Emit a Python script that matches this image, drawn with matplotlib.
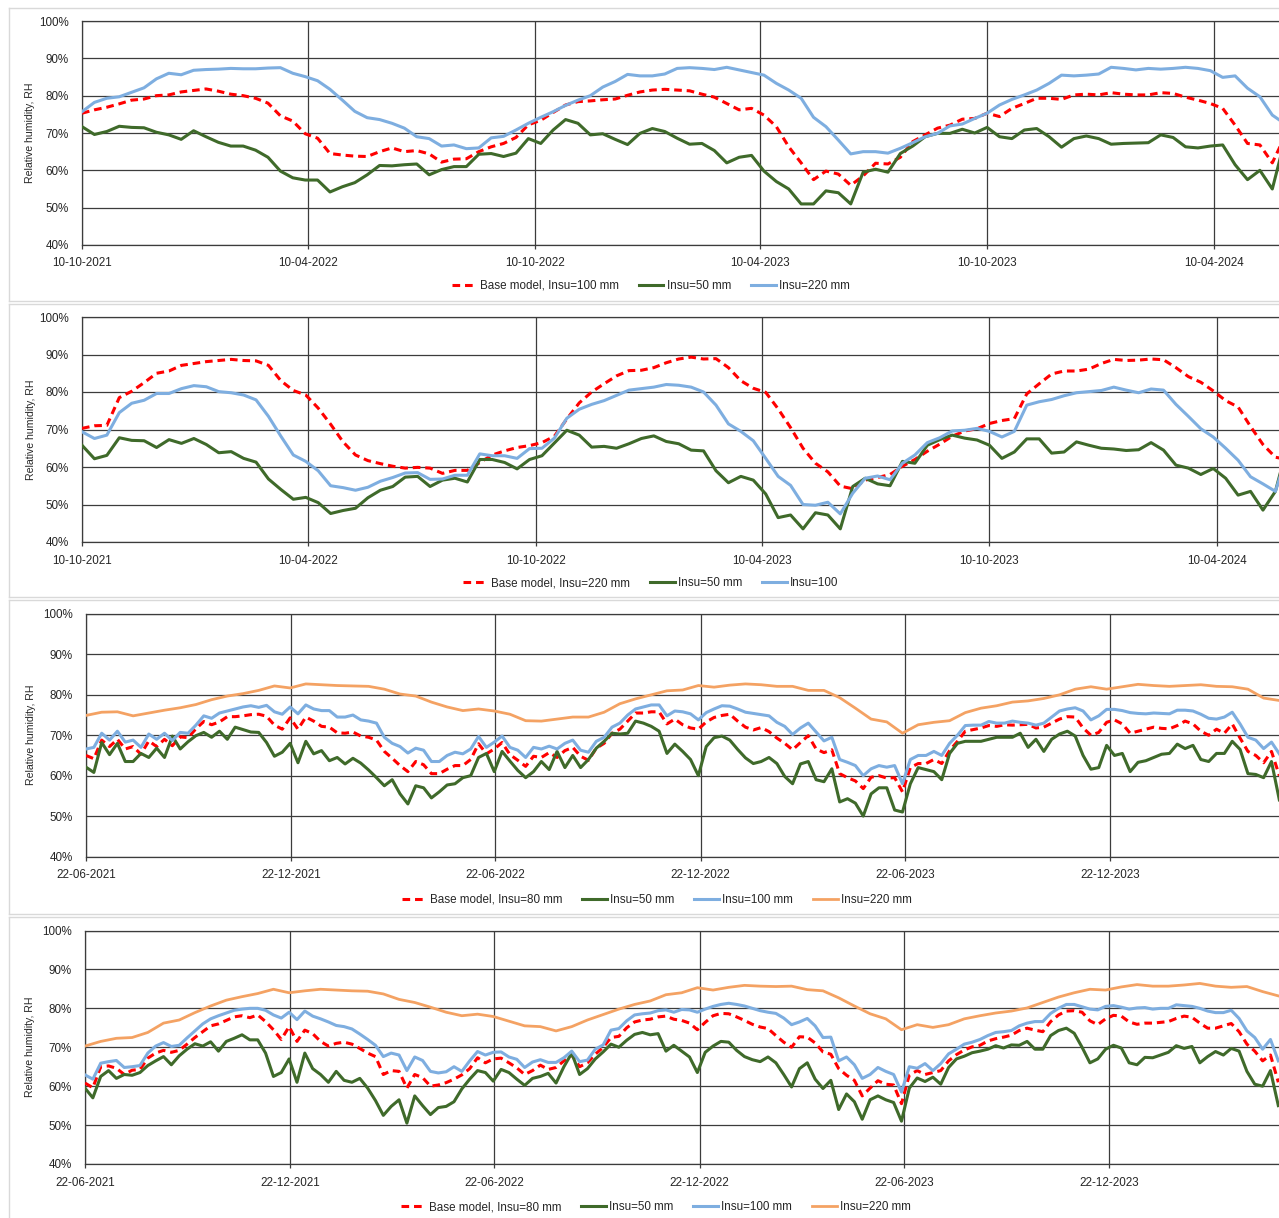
import numpy as np
import pandas as pd
import matplotlib
matplotlib.use("Agg")
import matplotlib.pyplot as plt
import matplotlib.dates as mdates
from matplotlib.lines import Line2D

plt.rcParams['font.family'] = ['Liberation Sans', 'DejaVu Sans']

# ---------------------------------------------------------------- data
# Panel 1 : 10-day samples from 10-10-2021
P1_START, P1_STEP = "2021-10-10", 10
p1_ticks = ["10-10-2021", "10-04-2022", "10-10-2022", "10-04-2023", "10-10-2023", "10-04-2024"]
p1_labels = ["Base model, Insu=100 mm", "Insu=50 mm", "Insu=220 mm"]
p1_base100 = [75.3, 76.2, 76.9, 77.8, 78.8, 79.1, 80.0, 80.2, 81.0, 81.4, 81.8, 81.2, 80.4, 80.0, 79.3, 78.0,
              74.6, 73.2, 69.8, 68.6, 64.5, 64.1, 63.8, 63.7, 65.0, 66.0, 65.0, 65.3, 64.4, 62.2, 63.0, 63.1,
              65.0, 66.3, 67.2, 68.8, 72.2, 73.4, 75.5, 77.5, 78.4, 78.6, 78.9, 79.1, 80.1, 81.0,
              81.5, 81.7, 81.5, 81.3, 80.4, 79.6, 77.9, 76.2, 76.6, 74.8, 71.7, 66.3, 62.0, 57.5, 59.8, 59.0,
              56.0, 58.5, 61.9, 61.7, 63.5, 67.7, 69.5, 71.3, 72.1, 73.7, 73.9, 75.3, 74.4, 76.6, 77.9, 79.3,
              79.3, 79.0, 80.2, 80.4, 80.2, 80.8, 80.4, 80.2, 80.2, 80.8, 80.6, 79.6, 78.8, 77.9, 76.6, 72.1,
              67.2, 66.8, 62.0, 69.0]
p1_insu50 = [71.7, 69.6, 70.4, 71.8, 71.5, 71.4, 70.2, 69.5, 68.3, 70.6, 69.0, 67.5, 66.5, 66.5, 65.4, 63.5,
             59.8, 58.0, 57.4, 57.4, 54.2, 55.6, 56.7, 58.8, 61.3, 61.2, 61.5, 61.7, 58.8, 60.2, 61.0, 61.0,
             64.3, 64.5, 63.7, 64.6, 68.5, 67.2, 70.8, 73.6, 72.6, 69.5, 69.8, 68.3, 66.9, 69.9,
             71.2, 70.4, 68.6, 67.0, 67.2, 65.3, 62.0, 63.5, 64.0, 59.8, 57.0, 55.0, 51.0, 51.0, 54.5, 54.0,
             51.0, 59.5, 60.3, 59.5, 64.5, 66.5, 69.0, 69.9, 69.9, 71.0, 70.0, 71.5, 69.0, 68.5, 70.8, 71.2,
             69.0, 66.2, 68.5, 69.2, 68.5, 67.0, 67.2, 67.3, 67.4, 69.5, 68.8, 66.3, 66.0, 66.5, 66.8, 61.5,
             57.5, 60.0, 55.0, 68.0]
p1_insu220 = [75.7, 78.2, 79.3, 79.7, 80.9, 82.1, 84.5, 86.0, 85.6, 86.8, 87.0, 87.1, 87.3, 87.2, 87.2, 87.4,
              87.5, 86.0, 85.1, 84.0, 81.7, 78.8, 75.8, 74.1, 73.6, 72.6, 71.3, 69.0, 68.5, 66.5, 66.8, 65.8,
              66.0, 68.7, 69.1, 70.8, 72.6, 74.2, 75.7, 77.4, 78.8, 80.0, 82.3, 83.8, 85.7, 85.3,
              85.3, 85.8, 87.3, 87.5, 87.3, 87.0, 87.6, 86.9, 86.2, 85.5, 83.3, 81.5, 79.3, 74.2, 71.7, 68.1,
              64.4, 65.0, 65.0, 64.6, 65.9, 67.4, 69.0, 69.9, 71.9, 72.4, 73.9, 75.3, 77.5, 79.0, 80.2, 81.5,
              83.3, 85.5, 85.3, 85.5, 85.8, 87.6, 87.3, 86.9, 87.3, 87.1, 87.3, 87.6, 87.3, 86.7, 84.9, 85.3,
              82.0, 79.7, 74.8, 72.5]

# Panel 2 : 10-day samples from 10-10-2021
P2_START, P2_STEP = "2021-10-10", 10
p2_ticks = p1_ticks
p2_labels = ["Base model, Insu=220 mm", "Insu=50 mm", "Insu=100"]
p2_base220 = [70.3, 71.0, 71.1, 78.5, 80.2, 82.5, 85.0, 85.6, 87.1, 87.6, 88.1, 88.4, 88.7, 88.4, 88.3, 87.1,
              83.0, 80.4, 79.2, 75.7, 71.4, 66.7, 63.2, 61.7, 60.9, 60.2, 59.7, 59.9, 59.7, 58.3, 59.1, 59.1,
              61.2, 63.2, 64.3, 65.2, 65.7, 66.5, 68.2, 72.8, 77.1, 80.0, 82.2, 84.3, 85.7, 85.8,
              86.5, 87.8, 88.8, 89.3, 88.8, 88.9, 86.5, 83.0, 81.0, 79.9, 75.5, 70.5, 65.0, 61.0, 58.7, 54.9,
              54.2, 56.5, 57.2, 58.0, 60.2, 62.0, 64.2, 66.1, 68.2, 69.6, 70.2, 71.6, 72.4, 72.9, 79.5, 82.2,
              84.8, 85.6, 85.6, 86.1, 87.6, 88.7, 88.4, 88.5, 88.8, 88.6, 86.5, 84.1, 82.6, 80.3, 77.7, 76.0,
              70.8, 66.0, 62.6, 62.0]
p2_insu50 = [65.8, 62.2, 63.1, 67.8, 67.1, 67.0, 65.2, 67.3, 66.3, 67.6, 66.0, 63.8, 64.1, 62.3, 61.3, 56.8,
             54.0, 51.4, 51.9, 50.5, 47.6, 48.4, 49.0, 51.8, 53.8, 54.8, 57.3, 57.5, 54.8, 56.5, 57.0, 56.0,
             62.0, 62.0, 61.2, 59.5, 62.0, 63.0, 66.4, 69.8, 68.5, 65.3, 65.5, 65.0, 66.2, 67.6,
             68.3, 66.8, 66.2, 64.5, 64.3, 59.0, 55.8, 57.5, 56.5, 52.8, 46.5, 47.2, 43.5, 47.8, 47.2, 43.5,
             54.8, 57.0, 55.5, 55.0, 61.5, 61.0, 65.8, 67.3, 68.5, 67.7, 67.2, 65.8, 62.3, 64.0, 67.5, 67.5,
             63.7, 64.0, 66.7, 65.8, 65.0, 64.8, 64.4, 64.6, 66.5, 64.5, 60.5, 59.7, 58.0, 59.6, 57.0, 52.5,
             53.5, 48.5, 53.5, 66.0]
p2_insu100 = [69.4, 67.6, 68.5, 74.5, 77.0, 77.8, 79.6, 79.6, 80.9, 81.7, 81.4, 80.1, 79.8, 79.2, 77.9, 73.5,
              68.2, 63.2, 61.5, 59.0, 55.0, 54.5, 53.8, 54.6, 56.2, 57.2, 58.4, 58.5, 56.7, 56.8, 57.8, 57.8,
              63.5, 63.0, 63.0, 62.3, 64.9, 65.0, 67.7, 73.0, 75.4, 76.7, 77.7, 79.1, 80.5, 80.9,
              81.3, 82.0, 81.8, 81.3, 80.0, 76.5, 71.5, 69.5, 67.0, 62.3, 57.5, 55.1, 50.0, 49.8, 50.6, 47.5,
              53.0, 57.0, 57.6, 56.6, 61.0, 63.2, 66.5, 67.8, 69.6, 69.8, 70.3, 69.5, 68.0, 69.5, 76.5, 77.4,
              78.0, 79.0, 79.8, 80.1, 80.4, 81.3, 80.5, 79.8, 80.8, 80.5, 76.7, 73.5, 70.2, 68.0, 65.0, 61.8,
              57.4, 55.5, 53.5, 64.0]

# Panel 3 : weekly samples (Insu=220 every 14 days) from 22-06-2021
P3_START, P3_STEP, P3_STEP_220 = "2021-06-22", 7, 14
p34_ticks = ["22-06-2021", "22-12-2021", "22-06-2022", "22-12-2022", "22-06-2023", "22-12-2023"]
p34_labels = ["Base model, Insu=80 mm", "Insu=50 mm", "Insu=100 mm", "Insu=220 mm"]
p3_base80 = [65.0, 64.2, 68.8, 67.2, 69.0, 66.6, 67.2, 65.3, 68.6, 67.2, 69.0, 67.4, 69.6, 69.4, 71.6, 73.4,
             72.6, 73.3, 74.6, 74.6, 74.8, 75.1, 75.2, 74.7, 72.5, 71.5, 74.3, 71.5, 74.5, 73.5, 72.2, 72.0,
             70.6, 70.5, 70.8, 69.8, 69.5, 68.8, 66.0, 64.3, 62.5, 61.0, 63.5, 62.7, 60.5, 60.5, 61.6, 62.5,
             62.5, 64.0, 67.9, 65.4, 66.6, 68.2, 65.2, 63.8, 62.3, 64.8, 64.5, 65.7, 64.5, 66.2, 67.0, 64.8,
             63.8, 66.8, 68.0, 70.5, 71.5, 73.5, 75.5, 75.5, 75.8, 75.8, 72.8, 74.0,
             72.6, 71.8, 71.5, 73.3, 74.4, 74.9, 75.2, 73.5, 72.0, 71.3, 71.9, 70.9, 69.3, 68.0, 66.4, 68.2,
             69.9, 66.6, 65.7, 66.4, 60.5, 59.5, 58.7, 56.8, 59.6, 60.0, 59.4, 59.5, 56.0, 62.0, 63.0, 63.0,
             64.0, 63.0, 66.2, 68.5, 71.0, 71.4, 71.8, 72.4, 72.2, 72.6, 72.5, 72.6, 72.7, 71.8, 72.0, 73.0,
             74.0, 74.6, 74.5, 71.8, 70.0, 70.7, 73.2, 73.8, 72.8, 70.5, 71.0, 71.5, 72.0, 71.7, 71.6, 72.4,
             73.5, 72.8, 71.0, 70.0, 71.5, 70.5, 72.8, 69.3, 66.0, 65.0, 63.2, 66.0, 60.0]
p3_insu50 = [62.1, 60.8, 68.2, 65.2, 68.0, 63.5, 63.5, 65.5, 64.5, 66.8, 64.5, 69.8, 66.6, 68.4, 69.9, 70.7,
             69.5, 71.0, 69.0, 72.0, 71.4, 70.8, 70.7, 68.2, 64.8, 65.8, 68.0, 63.2, 68.5, 65.4, 66.2, 63.7,
             64.5, 62.9, 64.3, 63.1, 61.4, 59.5, 57.5, 59.0, 55.5, 53.0, 57.5, 57.0, 54.5, 56.0, 57.7, 58.0,
             59.5, 60.0, 64.5, 65.5, 61.0, 66.0, 63.6, 61.3, 59.5, 61.0, 63.5, 61.5, 66.0, 62.0, 65.0, 62.0,
             64.0, 66.8, 68.5, 70.5, 70.3, 70.5, 73.5, 73.0, 72.2, 71.0, 65.5, 67.8,
             66.0, 64.0, 60.0, 67.2, 69.4, 69.8, 68.8, 66.5, 64.4, 63.0, 63.5, 64.5, 63.0, 59.8, 58.0, 62.9,
             63.5, 59.0, 58.5, 61.7, 53.5, 54.3, 53.2, 50.0, 55.5, 57.0, 57.0, 51.5, 51.0, 58.0, 62.0, 61.5,
             61.0, 59.0, 65.5, 68.0, 68.5, 68.5, 68.5, 69.0, 69.5, 69.5, 69.5, 70.5, 67.0, 69.0, 66.0, 69.0,
             70.3, 71.0, 69.8, 65.0, 61.6, 62.0, 67.5, 65.0, 65.5, 61.0, 63.3, 63.7, 64.5, 65.3, 65.5, 67.8,
             66.7, 67.5, 64.0, 63.5, 65.5, 65.5, 68.5, 66.5, 60.5, 60.3, 59.5, 63.5, 54.0]
p3_insu100 = [66.6, 67.0, 70.5, 68.8, 71.0, 68.3, 68.8, 67.0, 70.3, 69.0, 70.5, 68.7, 70.7, 70.5, 72.5, 74.8,
              74.2, 75.5, 76.0, 76.5, 77.0, 77.3, 76.9, 77.4, 75.8, 75.2, 77.0, 75.3, 77.5, 76.5, 76.1, 76.1,
              74.5, 74.5, 75.0, 73.8, 73.5, 73.0, 69.5, 68.0, 67.2, 65.6, 66.8, 66.3, 63.5, 63.5, 65.0, 65.8,
              65.4, 66.6, 69.7, 67.0, 68.3, 69.8, 67.0, 66.3, 64.5, 67.0, 66.6, 67.3, 66.6, 68.0, 68.8, 66.3,
              65.8, 68.5, 69.5, 72.0, 73.0, 75.0, 76.5, 77.0, 77.5, 77.5, 74.8, 76.0,
              75.8, 75.3, 73.8, 75.6, 76.5, 77.3, 77.2, 76.5, 75.7, 75.4, 75.1, 74.8, 73.2, 72.2, 70.2, 71.8,
              73.0, 70.8, 68.6, 69.5, 64.0, 63.3, 62.5, 60.0, 61.7, 62.5, 62.1, 62.5, 58.0, 64.0, 65.0, 65.0,
              66.0, 65.0, 68.0, 70.0, 72.4, 72.5, 72.5, 73.4, 73.0, 73.0, 73.5, 73.2, 73.0, 72.5, 73.0, 74.5,
              76.0, 76.5, 76.8, 76.0, 73.8, 74.8, 76.4, 76.4, 76.1, 75.6, 75.4, 75.3, 75.5, 75.4, 75.3, 76.2,
              76.2, 76.0, 75.2, 74.2, 74.0, 74.5, 75.7, 72.8, 69.5, 68.8, 66.7, 68.3, 65.4]
p3_insu220 = [74.9, 75.7, 75.8, 74.8, 75.5, 76.2, 76.8, 77.6, 78.8, 79.7, 80.3, 81.1, 82.2, 81.7, 82.7, 82.5,
              82.3, 82.2, 82.1, 81.4, 80.2, 79.7, 78.2, 77.0, 76.1, 76.5, 76.0, 75.2, 73.6, 73.5, 74.0, 74.5,
              74.5, 75.7, 77.8, 79.0, 80.0, 81.0, 81.2, 82.3, 81.9, 82.4, 82.7, 82.5, 82.1, 82.1, 81.1, 81.1,
              79.3, 76.7, 74.0, 73.3, 70.5, 72.6, 73.2, 73.6, 75.6, 76.7, 77.3, 78.2, 78.5, 79.1, 80.0, 81.4,
              82.0, 81.4, 82.0, 82.6, 82.3, 82.1, 82.3, 82.5, 82.1, 82.0, 81.4, 79.2, 78.6]

# Panel 4 : weekly samples (Insu=220 every 14 days) from 22-06-2021
P4_START, P4_STEP, P4_STEP_220 = "2021-06-22", 7, 14
p4_base80 = [60.8, 59.6, 65.0, 65.2, 64.6, 63.0, 64.1, 64.3, 67.2, 68.5, 69.2, 68.7, 69.2, 70.8, 72.5, 74.0,
             75.5, 76.0, 76.9, 77.8, 78.1, 77.6, 78.3, 76.6, 74.5, 72.0, 75.3, 71.5, 74.4, 73.5, 71.5, 70.3,
             71.0, 71.3, 70.8, 69.7, 68.5, 67.6, 63.0, 64.0, 63.8, 59.5, 63.0, 62.2, 60.0, 60.3, 60.9, 61.8,
             62.9, 64.5, 67.3, 66.0, 67.0, 67.2, 66.0, 64.7, 63.0, 64.0, 65.4, 64.3, 64.8, 66.5, 68.0, 65.0,
             66.0, 68.2, 70.0, 72.5, 72.8, 75.0, 76.5, 77.0, 77.2, 77.8, 78.0, 77.2,
             76.9, 76.2, 74.5, 76.4, 78.1, 78.7, 78.6, 77.8, 76.9, 75.9, 75.2, 74.8, 73.0, 71.3, 70.0, 72.7,
             72.6, 71.1, 68.8, 68.2, 64.5, 62.8, 61.5, 57.5, 59.5, 61.4, 60.5, 60.3, 55.5, 62.9, 64.0, 63.0,
             63.5, 64.0, 66.5, 68.1, 69.3, 70.1, 70.5, 71.6, 72.2, 72.6, 73.1, 74.3, 74.9, 74.4, 74.0, 76.6,
             78.3, 79.3, 79.4, 79.0, 76.8, 75.8, 77.3, 78.2, 78.0, 76.5, 75.9, 76.2, 76.2, 76.4, 76.6, 77.4,
             78.0, 77.7, 76.2, 74.9, 74.9, 75.5, 76.1, 74.0, 70.8, 69.0, 66.5, 68.0, 61.0]
p4_insu50 = [59.5, 57.0, 62.5, 64.0, 62.0, 63.0, 62.8, 63.5, 65.3, 66.5, 67.6, 65.5, 67.8, 69.5, 70.9, 70.3,
             71.4, 69.0, 71.5, 72.3, 73.2, 71.9, 71.9, 68.5, 62.5, 63.5, 67.0, 61.0, 68.5, 64.5, 63.0, 61.0,
             63.8, 61.5, 61.0, 62.0, 59.5, 56.3, 52.5, 54.8, 56.5, 50.5, 57.5, 55.0, 52.7, 54.5, 54.8, 56.0,
             59.3, 61.8, 64.0, 63.5, 61.3, 64.3, 63.5, 61.8, 60.2, 62.0, 62.5, 63.3, 60.8, 65.0, 68.5, 63.0,
             64.5, 67.0, 68.8, 70.8, 70.0, 71.8, 73.3, 73.8, 73.2, 73.5, 69.0, 70.5,
             69.0, 67.5, 63.5, 68.7, 70.3, 71.5, 71.3, 69.2, 67.6, 66.8, 66.3, 67.5, 66.0, 63.0, 59.8, 64.5,
             66.0, 61.8, 59.4, 61.5, 54.0, 58.0, 56.0, 51.5, 56.5, 57.5, 56.5, 55.8, 51.0, 59.5, 62.1, 61.2,
             62.3, 60.5, 64.8, 67.0, 67.7, 68.6, 69.0, 69.5, 70.4, 69.8, 70.6, 70.5, 71.5, 69.5, 69.5, 73.0,
             74.3, 74.9, 73.6, 70.0, 66.0, 67.0, 69.5, 70.5, 69.8, 66.0, 65.5, 67.4, 67.3, 68.0, 68.7, 70.4,
             69.7, 70.2, 66.0, 67.6, 68.9, 68.0, 69.7, 69.0, 63.8, 60.5, 60.0, 64.0, 55.0]
p4_insu100 = [62.9, 61.8, 65.9, 66.3, 66.6, 64.8, 65.0, 65.3, 68.5, 70.3, 71.2, 70.2, 70.5, 72.4, 74.2, 76.0,
              77.3, 78.1, 78.8, 79.5, 79.8, 80.0, 80.0, 79.5, 78.3, 77.5, 79.0, 77.1, 79.3, 78.0, 77.3, 76.5,
              75.6, 75.3, 74.7, 73.4, 72.0, 70.5, 67.6, 68.5, 68.0, 64.0, 67.5, 66.6, 63.8, 63.4, 63.7, 65.0,
              63.8, 66.5, 68.9, 68.0, 68.7, 68.8, 67.5, 66.9, 64.8, 66.2, 66.8, 66.1, 66.1, 67.3, 69.0, 66.3,
              66.7, 69.5, 70.6, 74.4, 74.8, 76.8, 78.3, 78.6, 78.8, 79.4, 79.6, 79.0,
              79.7, 79.6, 79.0, 79.8, 80.5, 81.0, 81.3, 81.0, 80.6, 80.0, 79.4, 79.0, 78.7, 77.5, 75.8, 76.5,
              77.4, 75.5, 72.5, 72.6, 66.5, 67.5, 65.5, 62.0, 63.0, 64.8, 63.8, 63.0, 58.5, 65.0, 64.6, 65.8,
              64.0, 65.8, 68.3, 69.5, 70.8, 71.3, 72.0, 73.0, 73.8, 74.0, 74.3, 75.5, 76.2, 76.6, 76.6, 78.7,
              80.0, 81.0, 81.0, 80.4, 79.8, 79.6, 80.5, 80.7, 80.3, 79.8, 80.1, 80.2, 79.8, 80.0, 80.0, 80.9,
              80.7, 80.5, 80.0, 79.3, 78.9, 78.9, 79.5, 77.4, 74.2, 72.5, 69.5, 72.0, 66.5]
p4_insu220 = [70.3, 71.5, 72.3, 72.5, 73.8, 76.2, 77.0, 78.9, 80.6, 82.1, 83.0, 83.8, 84.9, 84.0, 84.5, 84.9,
              84.7, 84.5, 84.4, 83.7, 82.3, 81.5, 80.3, 79.0, 78.1, 78.5, 77.9, 76.7, 75.5, 75.3, 74.2, 75.3,
              77.0, 78.4, 79.8, 81.0, 81.9, 83.5, 84.0, 85.3, 84.7, 85.4, 85.9, 85.7, 85.6, 85.7, 84.8, 84.5,
              82.7, 80.6, 78.6, 77.3, 74.5, 75.8, 75.1, 75.8, 77.3, 78.1, 78.8, 79.3, 80.1, 81.5, 82.9, 84.0,
              84.9, 84.7, 85.5, 86.1, 85.7, 85.7, 86.0, 86.4, 85.7, 85.4, 85.6, 84.3, 83.2]

y_ticks = [40, 50, 60, 70, 80, 90, 100]
y_ticklabels = [f"{v}%" for v in y_ticks]
ylabel_text = "Relative humidity, RH"

# ---------------------------------------------------------------- style
W, H = 1279, 1218
fig = plt.figure(figsize=(W / 100, H / 100), dpi=100)
fig.patch.set_facecolor("white")

RED, GREEN, BLUE, ORANGE = "#ff0000", "#3f6a2a", "#7eaee0", "#f4a263"
GRID, TEXT, BORDER = "#3c3c3c", "#262626", "#d9d9d9"
FS = 8.4

STY = {
    "red": dict(color=RED, lw=2.2, linestyle=(0, (2.5, 1.6)), zorder=3, dash_capstyle="butt"),
    "green": dict(color=GREEN, lw=2.2, zorder=4),
    "blue": dict(color=BLUE, lw=2.2, zorder=5),
    "orange": dict(color=ORANGE, lw=2.0, zorder=6),
}


def dates(start, step, n):
    return pd.date_range(start=start, periods=n, freq=f"{step}D")


def px_axes(left, top, right, bottom):
    return fig.add_axes([left / W, 1 - bottom / H, (right - left) / W, (bottom - top) / H])


def hline(y, x0=9, x1=W):
    fig.add_artist(Line2D([x0 / W, x1 / W], [1 - y / H, 1 - y / H], transform=fig.transFigure,
                          color=BORDER, lw=1.0))


def vline(x, y0, y1):
    fig.add_artist(Line2D([x / W, x / W], [1 - y0 / H, 1 - y1 / H], transform=fig.transFigure,
                          color=BORDER, lw=1.0))


# chart borders (stacked charts)
for top, bot in [(8, 301), (304, 597), (600, 914), (917, H + 5)]:
    hline(top)
    if bot <= H:
        hline(bot)
    vline(9, top, min(bot, H))

panels = [
    dict(box=(82, 21, W, 245), start=P1_START, xspan=965.4, ticks=p1_ticks,
         series=[(p1_base100, P1_STEP, "red"), (p1_insu50, P1_STEP, "green"), (p1_insu220, P1_STEP, "blue")],
         labels=p1_labels, leg=(651, 286), ylab=(30, 133)),
    dict(box=(82, 317, W, 542), start=P2_START, xspan=962.9, ticks=p2_ticks,
         series=[(p2_base220, P2_STEP, "red"), (p2_insu50, P2_STEP, "green"), (p2_insu100, P2_STEP, "blue")],
         labels=p2_labels, leg=(651, 583), ylab=(30.5, 429.5)),
    dict(box=(86, 614, W, 856.5), start=P3_START, xspan=1063.7, ticks=p34_ticks,
         series=[(p3_base80, P3_STEP, "red"), (p3_insu50, P3_STEP, "green"), (p3_insu100, P3_STEP, "blue"),
                 (p3_insu220, P3_STEP_220, "orange")],
         labels=p34_labels, leg=(657, 900), ylab=(31, 735)),
    dict(box=(85, 930.5, W, 1164), start=P4_START, xspan=1064.6, ticks=p34_ticks,
         series=[(p4_base80, P4_STEP, "red"), (p4_insu50, P4_STEP, "green"), (p4_insu100, P4_STEP, "blue"),
                 (p4_insu220, P4_STEP_220, "orange")],
         labels=p34_labels, leg=(656, 1207), ylab=(30, 1047)),
]

for p in panels:
    ax = px_axes(*p["box"])
    handles = []
    for (vals, step, key), lab in zip(p["series"], p["labels"]):
        d = dates(p["start"], step, len(vals))
        h, = ax.plot(d, vals, label=lab, **STY[key])
        handles.append(h)
    x0 = mdates.date2num(pd.Timestamp(p["start"]))
    ax.set_xlim(x0, x0 + p["xspan"])
    ax.set_ylim(40, 100)
    ax.set_yticks(y_ticks)
    ax.set_yticklabels(y_ticklabels)
    tick_dates = [pd.to_datetime(t, format="%d-%m-%Y") for t in p["ticks"]]
    ax.set_xticks(mdates.date2num(tick_dates))
    ax.set_xticklabels(p["ticks"])
    ax.grid(True, color=GRID, lw=0.9)
    ax.set_axisbelow(True)
    for s in ["left", "bottom", "top"]:
        ax.spines[s].set_color(GRID)
        ax.spines[s].set_linewidth(0.9)
    ax.spines["right"].set_visible(False)
    ax.tick_params(axis="x", direction="out", length=3, width=0.9, color=GRID, pad=6,
                   labelsize=FS, labelcolor=TEXT)
    ax.tick_params(axis="y", length=0, pad=9.5, labelsize=FS, labelcolor=TEXT)
    fig.text(p["ylab"][0] / W, 1 - p["ylab"][1] / H, ylabel_text, rotation=90, ha="center", va="center",
             fontsize=7.6, color=TEXT)
    fig.legend(handles, p["labels"], loc="center", bbox_to_anchor=(p["leg"][0] / W, 1 - p["leg"][1] / H),
               ncol=len(handles), frameon=False, fontsize=FS, handlelength=2.1, handletextpad=0.3,
               columnspacing=1.7, labelcolor=TEXT)

fig.savefig("out.png", dpi=100, facecolor="white")
